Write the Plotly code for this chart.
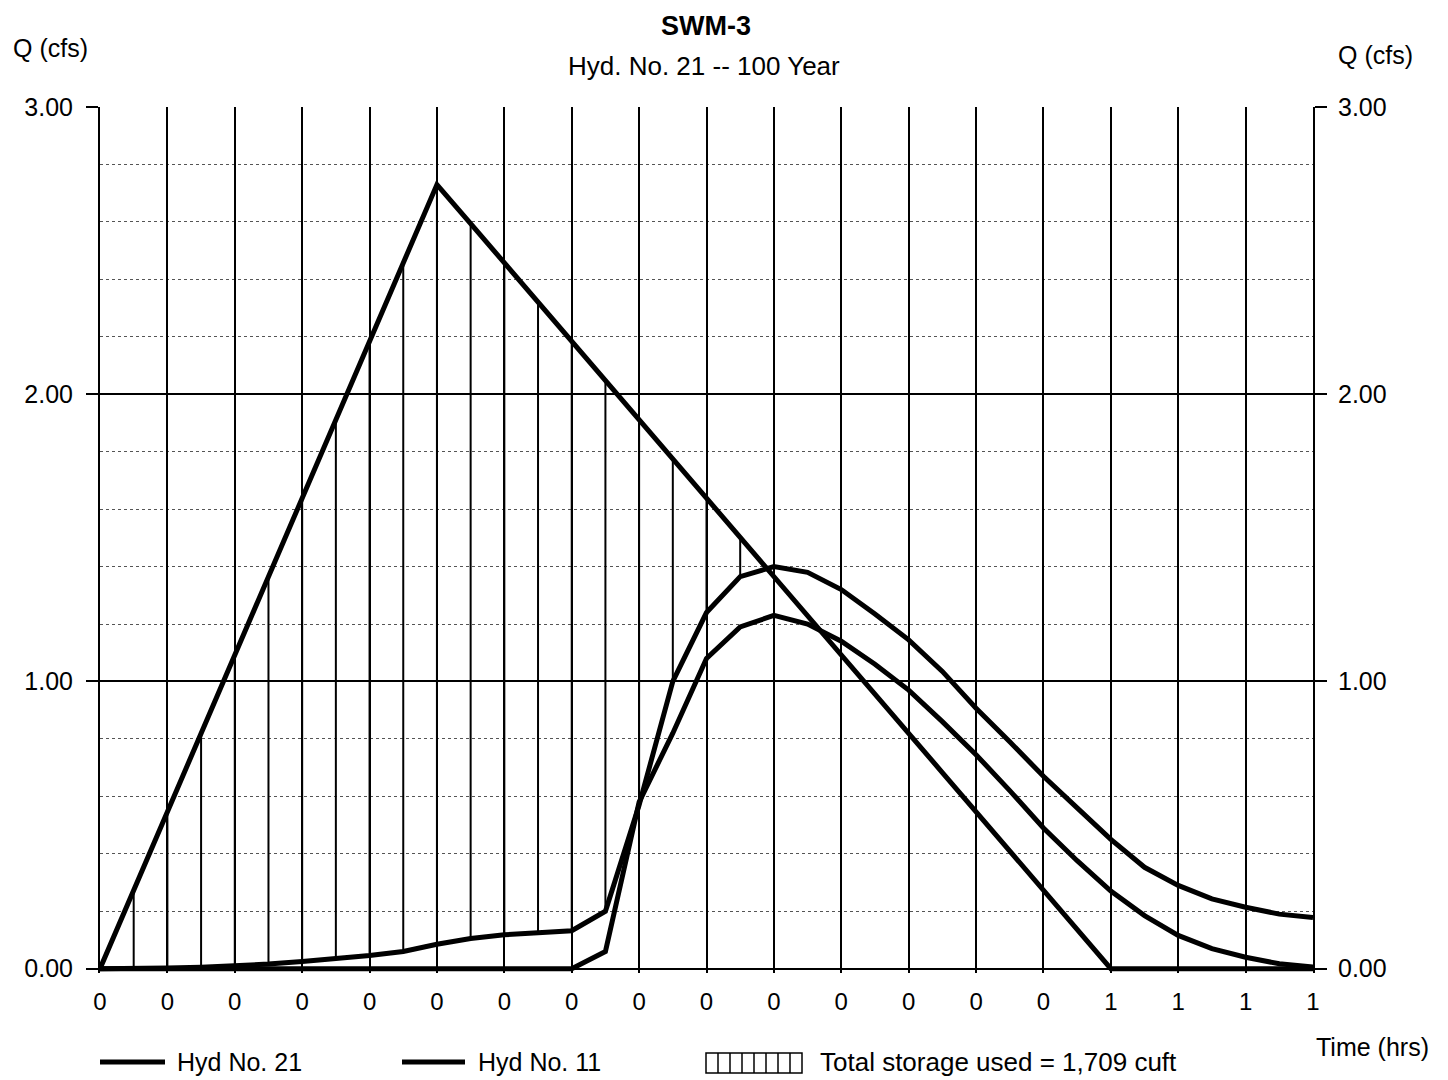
import plotly.graph_objects as go

# ---------------- data ----------------
time_min = [0, 1, 2, 3, 4, 5, 6, 7, 8, 9, 10, 11, 12, 13, 14, 15, 16, 17, 18,
            19, 20, 21, 22, 23, 24, 25, 26, 27, 28, 29, 30, 31, 32, 33, 34, 35, 36]

# inflow (triangular hydrograph)
hyd_in = [0.000, 0.273, 0.546, 0.819, 1.092, 1.365, 1.638, 1.911, 2.184, 2.457,
          2.730, 2.594, 2.457, 2.321, 2.184, 2.048, 1.911, 1.775, 1.638, 1.502,
          1.365, 1.229, 1.092, 0.956, 0.819, 0.683, 0.546, 0.410, 0.273, 0.137,
          0.000, 0.000, 0.000, 0.000, 0.000, 0.000, 0.000]

# upper routed curve (bottom of storage hatch)
hyd_a = [0.000, 0.000, 0.002, 0.005, 0.010, 0.016, 0.025, 0.035, 0.046, 0.060,
         0.085, 0.105, 0.118, 0.125, 0.132, 0.200, 0.570, 1.000, 1.240, 1.365,
         1.400, 1.380, 1.320, 1.235, 1.145, 1.035, 0.907, 0.790, 0.670, 0.560,
         0.450, 0.353, 0.290, 0.243, 0.214, 0.190, 0.178]

# outflow curve
hyd_out = [0.000, 0.000, 0.000, 0.000, 0.000, 0.000, 0.000, 0.000, 0.000, 0.000,
           0.000, 0.000, 0.000, 0.000, 0.000, 0.060, 0.580, 0.820, 1.080, 1.190,
           1.230, 1.200, 1.140, 1.060, 0.970, 0.860, 0.745, 0.620, 0.490, 0.376,
           0.270, 0.185, 0.116, 0.070, 0.040, 0.017, 0.006]

tick_min = [0, 2, 4, 6, 8, 10, 12, 14, 16, 18, 20, 22, 24, 26, 28, 30, 32, 34, 36]
tick_labels = ["0", "0", "0", "0", "0", "0", "0", "0", "0", "0", "0", "0", "0",
               "0", "0", "1", "1", "1", "1"]

y_ticks = [0, 1, 2, 3]
y_labels = ["0.00", "1.00", "2.00", "3.00"]

title = "SWM-3"
subtitle = "Hyd. No. 21 -- 100 Year"
legend_labels = ["Hyd No. 21", "Hyd No. 11", "Total storage used = 1,709 cuft"]

# ---------------- figure ----------------
FONT = "Liberation Sans, Arial, sans-serif"
t_hr = [m / 60 for m in time_min]

# storage hatch: vertical segments between routed curve and inflow
hx, hy = [], []
for t, a, i in zip(t_hr, hyd_a, hyd_in):
    if i > a:
        hx += [t, t, None]
        hy += [a, i, None]

fig = go.Figure()
fig.add_trace(go.Scatter(x=hx, y=hy, mode="lines",
                         line=dict(color="black", width=2), showlegend=False,
                         hoverinfo="skip"))
fig.add_trace(go.Scatter(x=t_hr, y=hyd_out, mode="lines", name=legend_labels[0],
                         line=dict(color="black", width=5), showlegend=False))
fig.add_trace(go.Scatter(x=t_hr, y=hyd_in, mode="lines", name=legend_labels[1],
                         line=dict(color="black", width=5), showlegend=False))
fig.add_trace(go.Scatter(x=t_hr, y=hyd_a, mode="lines",
                         line=dict(color="black", width=5), showlegend=False))
# invisible trace on y2 to show the right axis
fig.add_trace(go.Scatter(x=[t_hr[0]], y=[0], yaxis="y2", mode="markers",
                         marker=dict(opacity=0), showlegend=False, hoverinfo="skip"))

# page body has an 8px margin; figure is sized so the plot lands where the reference has it
yrange = [-0.015, 3.0]
fig.update_layout(
    width=1440, height=1072,
    margin=dict(l=92, r=135, t=99, b=107),
    paper_bgcolor="white", plot_bgcolor="white",
    font=dict(family=FONT, size=25, color="black"),
    xaxis=dict(range=[0, t_hr[-1]], tickvals=[m / 60 for m in tick_min],
               ticktext=tick_labels, showgrid=True, gridcolor="black", gridwidth=1.5,
               zeroline=False, showline=False, ticks="", ticklabelstandoff=12,
               tickfont=dict(size=24)),
    yaxis=dict(range=yrange, tickvals=y_ticks, ticktext=y_labels,
               showgrid=True, gridcolor="black", gridwidth=1.5, zeroline=False,
               showline=True, linecolor="black", linewidth=2,
               ticks="outside", ticklen=12, tickcolor="black", tickwidth=1.5,
               ticklabelstandoff=8, tickfont=dict(size=25),
               minor=dict(tickvals=[0.2, 0.4, 0.6, 0.8, 1.2, 1.4, 1.6, 1.8,
                                    2.2, 2.4, 2.6, 2.8],
                          showgrid=True, gridcolor="#555555", gridwidth=1,
                          griddash="dot", ticks="")),
    yaxis2=dict(range=yrange, overlaying="y", side="right", tickvals=y_ticks,
                ticktext=y_labels, showgrid=False, zeroline=False,
                showline=True, linecolor="black", linewidth=2,
                ticks="outside", ticklen=12, tickcolor="black", tickwidth=1.5,
                ticklabelstandoff=6, tickfont=dict(size=25)),
    showlegend=False,
)

# helpers: screen pixel -> paper coordinates
W = 1213.0
H = 866.0
def px(xs):
    return (xs - 100) / W
def py(ys):
    return (973 - ys) / H

ann = []
ann.append(dict(text="<b>" + title + "</b>", x=px(706), y=py(9), xref="paper", yref="paper",
                showarrow=False, font=dict(size=27), xanchor="center", yanchor="top"))
ann.append(dict(text=subtitle, x=px(704), y=py(66), xref="paper", yref="paper",
                showarrow=False, font=dict(size=26), xanchor="center", yanchor="middle"))
ann.append(dict(text="Q (cfs)", x=px(50), y=py(48), xref="paper", yref="paper",
                showarrow=False, font=dict(size=25), xanchor="center", yanchor="middle"))
ann.append(dict(text="Q (cfs)", x=px(1375), y=py(55), xref="paper", yref="paper",
                showarrow=False, font=dict(size=25), xanchor="center", yanchor="middle"))
ann.append(dict(text="Time (hrs)", x=px(1372), y=py(1047), xref="paper", yref="paper",
                showarrow=False, font=dict(size=25), xanchor="center", yanchor="middle"))

# manual legend
shapes = []
ly = py(1062)
shapes.append(dict(type="line", xref="paper", yref="paper", x0=px(100), x1=px(165),
                   y0=ly, y1=ly, line=dict(color="black", width=5)))
shapes.append(dict(type="line", xref="paper", yref="paper", x0=px(402), x1=px(465),
                   y0=ly, y1=ly, line=dict(color="black", width=5)))
ann.append(dict(text=legend_labels[0], x=px(175), y=ly, xref="paper", yref="paper",
                showarrow=False, xanchor="left", yanchor="middle", font=dict(size=25)))
ann.append(dict(text=legend_labels[1], x=px(476), y=ly, xref="paper", yref="paper",
                showarrow=False, xanchor="left", yanchor="middle", font=dict(size=25)))
shapes.append(dict(type="rect", xref="paper", yref="paper", x0=px(706), x1=px(802),
                   y0=py(1053), y1=py(1073), line=dict(color="black", width=1.5)))
for k in range(1, 8):
    xx = px(706 + 12 * k)
    shapes.append(dict(type="line", xref="paper", yref="paper", x0=xx, x1=xx,
                       y0=py(1053), y1=py(1073), line=dict(color="black", width=1.5)))
ann.append(dict(text=legend_labels[2], x=px(818), y=ly, xref="paper", yref="paper",
                showarrow=False, xanchor="left", yanchor="middle", font=dict(size=26)))

fig.update_layout(annotations=ann, shapes=shapes)
fig.write_html("out.html")
